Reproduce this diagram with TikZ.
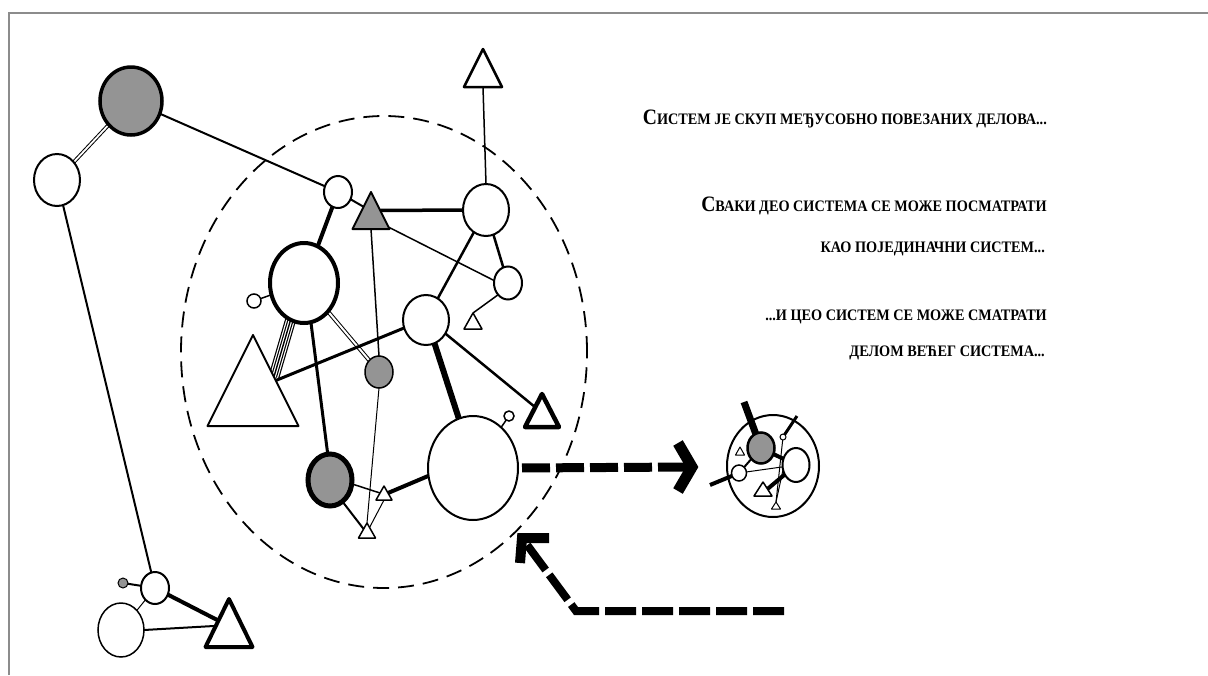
\documentclass[tikz,border=0pt]{standalone}
\usepackage{fontspec}
\setmainfont{Liberation Serif}
\newfontfamily\capfont[FakeStretch=0.89]{Liberation Serif}
\usetikzlibrary{shapes.geometric,calc}
\pgfdeclarelayer{bg}
\pgfsetlayers{bg,main}
\newcommand{\capA}[1]{{\fontsize{22}{22}\selectfont #1}}
\tikzset{
  nd/.style={ellipse, draw, fill=white, inner sep=0pt, outer sep=0pt},
  sz/.style 2 args={minimum width=#1, minimum height=#2},
  shd/.style={fill=black!42},
  tri/.style={isosceles triangle, isosceles triangle stretches, shape border rotate=90,
    draw, fill=white, inner sep=0pt, outer sep=0pt, anchor=apex, line join=round},
  bigdash/.style={line width=9, dash pattern=on 28pt off 6pt},
  head/.style={line width=11, line join=miter},
  txt/.style={font=\capfont\fontsize{16}{16}\selectfont\bfseries, inner sep=0pt, anchor=base east},
}
\begin{document}
\begin{tikzpicture}[x=1pt, y=-1pt]
\useasboundingbox (0,0) rectangle (1208,675);
\draw[black!45, line width=1.5] (9,675) -- (9,13) -- (1208,13);

% the system boundary
\node[ellipse, draw, sz={406}{472}, line width=1.8, dash pattern=on 16pt off 9pt] (sys) at (384,352) {};

% outer parts
\node[nd, sz={62}{68}, shd, line width=3.5] (P1) at (131,101) {};
\node[nd, sz={46}{52}, line width=2] (P2) at (57,180) {};
\node[nd, sz={28}{32}, line width=2] (P3) at (155,588) {};
\node[nd, sz={10}{10}, shd, line width=1] (P4) at (123,583) {};
\node[nd, sz={46}{54}, line width=1.5] (P5) at (121,630) {};
\node[tri, sz={47}{48}, line width=4] (T1) at (229,599) {};
\node[tri, sz={38}{38}, line width=2.5] (Tt) at (483,49) {};

% inner parts
\node[nd, sz={28}{32}, line width=2] (A) at (338,192) {};
\node[tri, sz={37}{37}, shd, line width=2] (Tg) at (371,192) {};
\node[nd, sz={46}{52}, line width=2] (B) at (486,210) {};
\node[nd, sz={68}{80}, line width=4] (C) at (304,283) {};
\node[nd, sz={14}{14}, line width=1.5] (c1) at (254,301) {};
\node[tri, sz={91}{91}, line width=2] (D) at (253,335) {};
\node[nd, sz={46}{50}, line width=2] (E) at (426,320) {};
\node[nd, sz={28}{33}, line width=2] (F) at (508,283) {};
\node[tri, sz={18}{16}, line width=1.5] (G) at (473,313) {};
\node[nd, sz={28}{32}, shd, line width=1.5] (H) at (379,372) {};
\node[nd, sz={44}{52}, shd, line width=5] (I) at (330,480) {};
\node[nd, sz={90}{104}, line width=2] (J) at (473,468) {};
\node[nd, sz={10}{10}, line width=1.5] (j1) at (509,416) {};
\node[tri, sz={34}{33}, line width=4.5] (K) at (542,394) {};
\node[tri, sz={16}{14}, line width=1.5] (L) at (384,486) {};
\node[tri, sz={17}{15}, line width=1.5] (M) at (367,523) {};

% small system
\node[ellipse, draw, sz={92}{102}, line width=2, inner sep=0pt] (S) at (773,466) {};
\node[nd, sz={27}{31}, shd, line width=2.5] (s1) at (761,448) {};
\node[nd, sz={27}{34}, line width=2] (s2) at (796,465) {};
\node[nd, sz={15}{16}, line width=1.5] (s3) at (739,473) {};
\node[nd, sz={6}{6}, line width=1] (s4) at (783,437) {};
\node[tri, sz={9}{8}, line width=1] (s5) at (740,447) {};
\node[tri, sz={18}{14}, line width=1.5] (s6) at (763,482) {};
\node[tri, sz={9}{7}, line width=1] (s7) at (776,502) {};
\coordinate (o1) at (744,402);
\coordinate (o2) at (797,416);
\coordinate (o3) at (710,485);

\begin{pgfonlayer}{bg}
  \draw[double, double distance=1.8, line width=1] (P1) -- (P2);
  \draw[line width=2] (P1) -- (A);
  \draw[line width=2] (P2) -- (P3);
  \draw[line width=2] (P3) -- (P4);
  \draw[line width=1] (P3) -- (P5);
  \draw[line width=4] (P3) -- ($(T1.apex)!0.45!(T1.left corner)$);
  \draw[line width=2] (P5.east) -- ($(T1.apex)!0.56!(T1.left corner)$);
  \draw[line width=1.5] (Tt.lower side) -- (B.north);

  \draw[line width=2] (A) -- ($(Tg.apex)!0.4!(Tg.left corner)$);
  \draw[line width=4] (A) -- (C);
  \draw[line width=3.5] ($(Tg.apex)!0.5!(Tg.right corner)$) -- (B.west);
  \draw[line width=1.5] (C) -- (c1);
  % striped connector
  \draw[line width=11] (C.250) -- ($(D.apex)!0.46!(D.right corner)$);
  \draw[white, line width=8.6] (C.250) -- ($(D.apex)!0.46!(D.right corner)$);
  \draw[line width=6.2] (C.250) -- ($(D.apex)!0.46!(D.right corner)$);
  \draw[white, line width=3.8] (C.250) -- ($(D.apex)!0.46!(D.right corner)$);
  \draw[line width=1.4] (C.250) -- ($(D.apex)!0.46!(D.right corner)$);
  \draw[line width=3] (C.280) -- (I.95);
  \draw[double, double distance=2, line width=1] (C) -- (H);
  \draw[line width=1.5] (Tg.lower side) -- (H.north);
  \draw[line width=1] (H.south) -- (M.apex);
  \draw[line width=3] ($(D.apex)!0.5!(D.right corner)$) -- (E.200);
  \draw[line width=2.5] (B) -- (E);
  \draw[line width=2.5] (B) -- (F);
  \draw[line width=1.5] ($(Tg.apex)!0.95!(Tg.right corner)$) -- (F.170);
  \draw[line width=1.5] (F.230) -- (G.apex);
  \draw[line width=6] (E.290) -- (J.106);
  \draw[line width=2.5] (E.325) -- ($(K.apex)!0.4!(K.left corner)$);
  \draw[line width=1.5] (J) -- (j1);
  \draw[line width=4] (J.190) -- ($(L.apex)!0.5!(L.right corner)$);
  \draw[line width=1.5] (I.350) -- ($(L.apex)!0.5!(L.left corner)$);
  \draw[line width=2] (I.300) -- ($(M.apex)!0.4!(M.left corner)$);
  \draw[line width=1] (L.lower side) -- ($(M.apex)!0.3!(M.right corner)$);

  \draw[line width=7] (s1) -- (o1);
  \draw[line width=3] (s4) -- (o2);
  \draw[line width=4] (s3) -- (o3);
  \draw[line width=4] (s1) -- (s2);
  \draw[line width=2] (s1) -- (s3);
  \draw[line width=1] (s3) -- (s2);
  \draw[line width=4] (s2) -- ($(s6.apex)!0.5!(s6.right corner)$);
  \draw[line width=1] (s4) -- (s7.apex);
  \draw[line width=1] (s2.200) -- (s7.apex);
\end{pgfonlayer}

% arrows
\coordinate (a1t) at (692,467);
\draw[bigdash, shorten <=4pt, shorten >=6pt] (J.east) -- (a1t);
\draw[head] ($(a1t)+(-14,-24)$) -- (a1t) -- ($(a1t)+(-14,24)$);

\coordinate (a2s) at (784,611);
\coordinate (a2c) at (576,611);
\coordinate (a2t) at (522,538);
\draw[bigdash, line width=8, dash pattern=on 31pt off 6pt] (a2s) -- (a2c) -- (a2t);
\draw[head, line width=10] ($(a2t)+(27,0)$) -- (a2t) -- ($(a2t)+(-2,25)$);

% captions
\node[txt] (t1) at (1047,124) {\capA{С}ИСТЕМ ЈЕ СКУП МЕЂУСОБНО ПОВЕЗАНИХ ДЕЛОВА...};
\node[txt] (t2) at (1047,211) {\capA{С}ВАКИ ДЕО СИСТЕМА СЕ МОЖЕ ПОСМАТРАТИ};
\node[txt] (t3) at (1045,252) {КАО ПОЈЕДИНАЧНИ СИСТЕМ...};
\node[txt] (t4) at (1047,320) {...И ЦЕО СИСТЕМ СЕ МОЖЕ СМАТРАТИ};
\node[txt] (t5) at (1045,356) {ДЕЛОМ ВЕЋЕГ СИСТЕМА...};
\end{tikzpicture}
\end{document}
